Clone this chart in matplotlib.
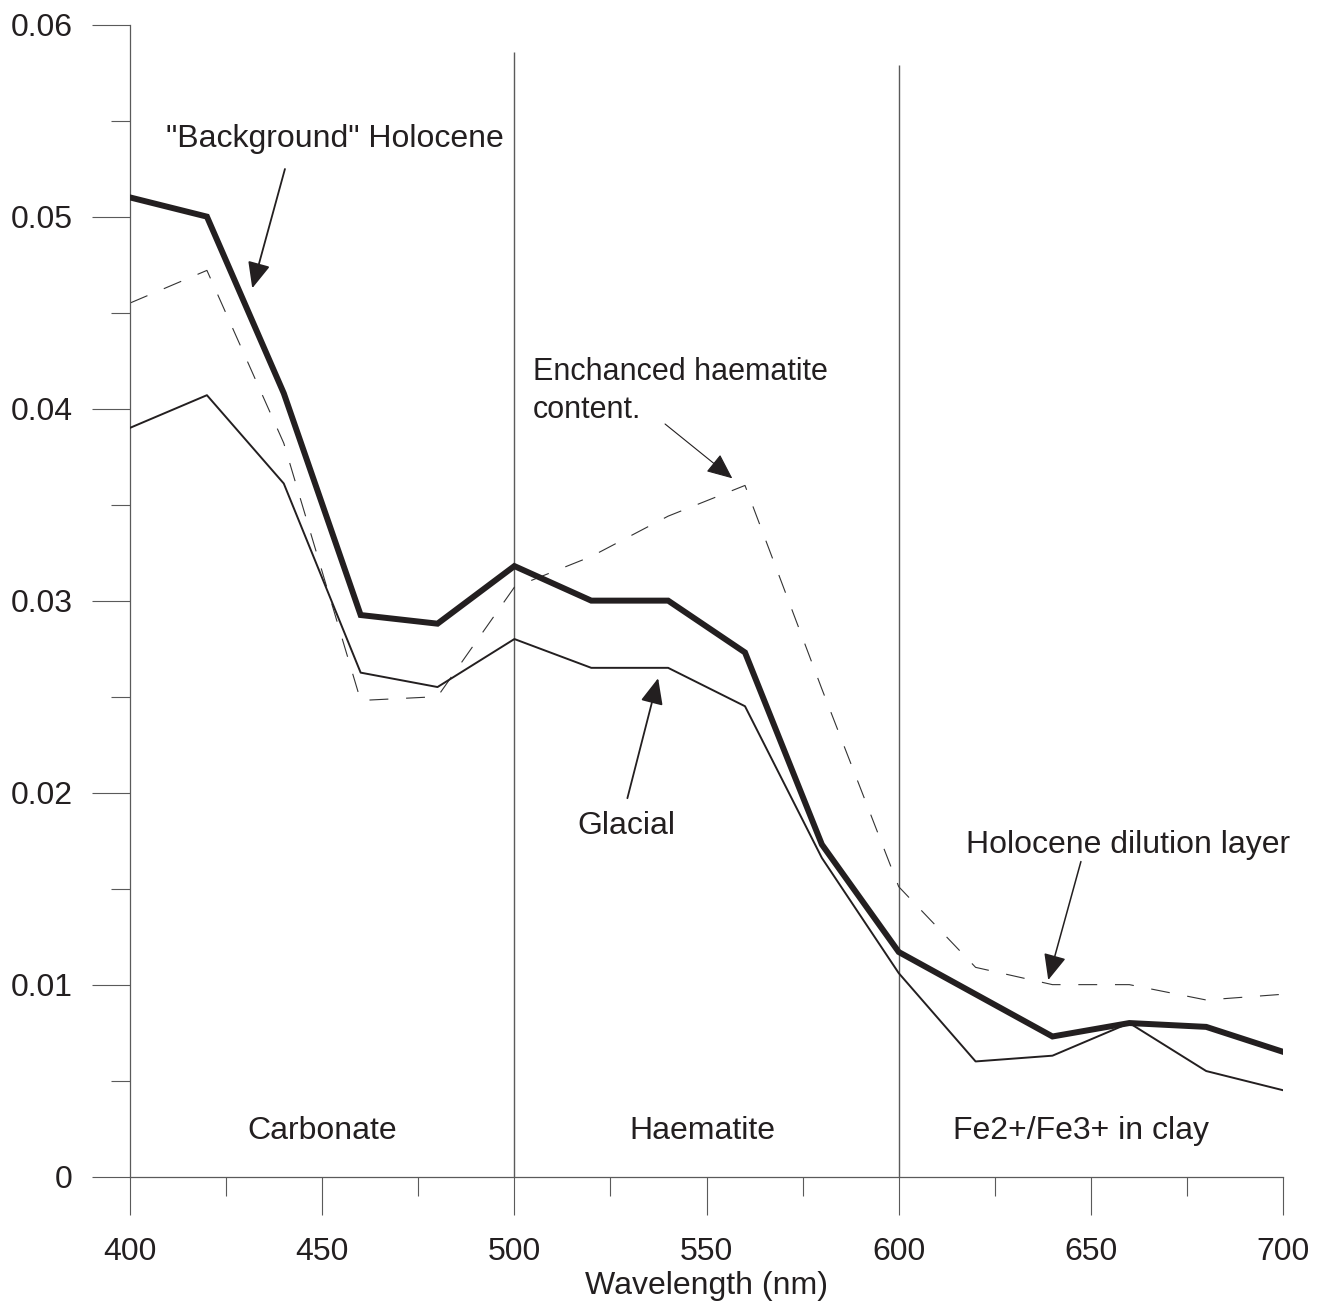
import matplotlib
matplotlib.use('Agg')
import matplotlib.pyplot as plt
from matplotlib.ticker import MultipleLocator

# reflectance spectra
wavelength = [400, 420, 440, 460, 480, 500, 520, 540, 560, 580, 600, 620, 640, 660, 680, 700]
background_holocene = [0.0510, 0.0500, 0.0408, 0.02925, 0.0288, 0.0318, 0.0300, 0.0300,
                       0.0273, 0.0173, 0.0117, 0.0095, 0.0073, 0.0080, 0.0078, 0.0065]
glacial = [0.0390, 0.0407, 0.0361, 0.02625, 0.0255, 0.0280, 0.0265, 0.0265,
           0.0245, 0.0166, 0.0106, 0.0060, 0.0063, 0.0080, 0.0055, 0.0045]
dilution_layer = [0.0455, 0.0472, 0.0382, 0.0248, 0.0250, 0.0307, 0.0323, 0.0344,
                  0.0360, 0.0254, 0.0151, 0.0109, 0.0100, 0.0100, 0.0092, 0.0095]

region_names = ['Carbonate', 'Haematite', 'Fe2+/Fe3+ in clay']
region_edges = [500, 600]
region_edge_tops = [0.0586, 0.0579]

x_ticks = [400, 450, 500, 550, 600, 650, 700]
y_ticks = [0, 0.01, 0.02, 0.03, 0.04, 0.05, 0.06]
y_tick_labels = ['0', '0.01', '0.02', '0.03', '0.04', '0.05', '0.06']

plt.rcParams['font.family'] = 'Liberation Sans'
INK = '#231f20'
GREY = '#5a5a5a'

fig = plt.figure(figsize=(13.27, 13.10), dpi=100)
ax = fig.add_axes([0.098, 0.1018, 0.8689, 0.8794])

ax.vlines(region_edges, 0, region_edge_tops, colors=GREY, lw=1.0, zorder=1)

ax.plot(wavelength, dilution_layer, color='#333333', lw=0.8, linestyle=(0, (17, 16)), zorder=2)
ax.plot(wavelength, glacial, color=INK, lw=1.4, zorder=3)
ax.plot(wavelength, background_holocene, color=INK, lw=4.3, solid_joinstyle='miter', zorder=4)

ax.set_xlim(400, 700)
ax.set_ylim(0, 0.06)
ax.set_xticks(x_ticks)
ax.set_yticks(y_ticks, y_tick_labels)
ax.xaxis.set_minor_locator(MultipleLocator(25))
ax.yaxis.set_minor_locator(MultipleLocator(0.005))
ax.tick_params(which='major', length=27.4, width=0.8, color=GREY, labelsize=23, labelcolor=INK)
ax.tick_params(which='minor', length=13.7, width=0.8, color=GREY)
ax.tick_params(axis='x', pad=16)
ax.tick_params(axis='y', pad=14)

for side in ['top', 'right']:
    ax.spines[side].set_visible(False)
for side in ['left', 'bottom']:
    ax.spines[side].set_color(GREY)
    ax.spines[side].set_linewidth(0.9)

ax.set_xlabel('Wavelength (nm)', fontsize=23, labelpad=3, color=INK)

# region names along the bottom
for name, xc in zip(region_names, [450, 549, 647.5]):
    ax.text(xc, 0.00195, name, ha='center', va='baseline', fontsize=23, color=INK)

# labels with arrows
head = '-|>,head_length=0.8,head_width=0.35'
ax.text(409.4, 0.05363, '"Background" Holocene', fontsize=23, color=INK, va='baseline')
ax.annotate('', xy=(431.8, 0.04627), xytext=(440.3, 0.05248),
            arrowprops=dict(arrowstyle=head, mutation_scale=20, lw=1.3, color=INK, shrinkA=0, shrinkB=0))

ax.text(504.9, 0.0415, 'Enchanced haematite', fontsize=22, color=INK, va='baseline')
ax.text(504.9, 0.03952, 'content.', fontsize=22, color=INK, va='baseline')
ax.annotate('', xy=(556.7, 0.03637), xytext=(539.2, 0.0392),
            arrowprops=dict(arrowstyle=head, mutation_scale=20, lw=0.8, color=INK, shrinkA=0, shrinkB=0))

ax.text(529.1, 0.01784, 'Glacial', fontsize=23, color=INK, ha='center', va='baseline')
ax.annotate('', xy=(537.4, 0.02596), xytext=(529.4, 0.01971),
            arrowprops=dict(arrowstyle=head, mutation_scale=20, lw=1.3, color=INK, shrinkA=0, shrinkB=0))

ax.text(617.5, 0.01684, 'Holocene dilution layer', fontsize=23, color=INK, va='baseline')
ax.annotate('', xy=(638.9, 0.01024), xytext=(647.4, 0.01641),
            arrowprops=dict(arrowstyle=head, mutation_scale=20, lw=1.1, color=INK, shrinkA=0, shrinkB=0))

fig.savefig('out.png', dpi=100)
